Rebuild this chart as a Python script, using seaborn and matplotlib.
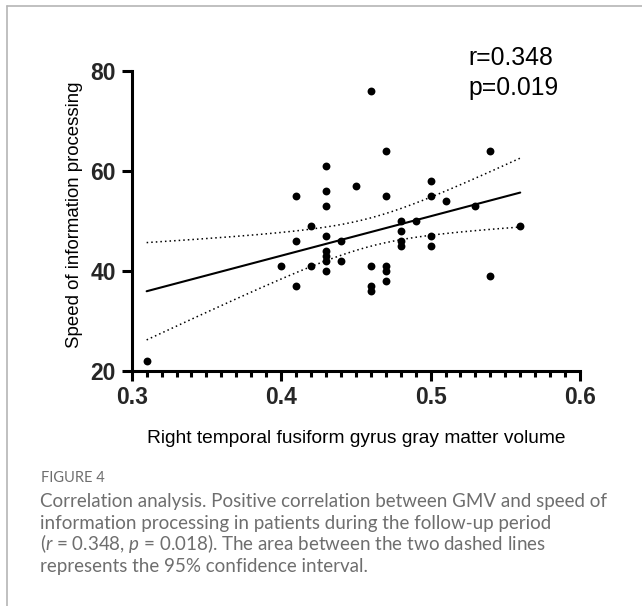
import numpy as np
import pandas as pd
import matplotlib
matplotlib.use("Agg")
import matplotlib.pyplot as plt
from matplotlib.lines import Line2D
from matplotlib.ticker import MultipleLocator
import seaborn as sns

# ---- data ----
gmv = [0.31,
       0.40,
       0.41, 0.41, 0.41,
       0.42, 0.42,
       0.43, 0.43, 0.43, 0.43, 0.43, 0.43, 0.43, 0.43,
       0.44, 0.44,
       0.45,
       0.46, 0.46, 0.46, 0.46,
       0.47, 0.47, 0.47, 0.47, 0.47,
       0.48, 0.48, 0.48, 0.48,
       0.49,
       0.50, 0.50, 0.50, 0.50,
       0.51,
       0.53,
       0.54, 0.54,
       0.56]
speed = [22,
         41,
         55, 46, 37,
         49, 41,
         61, 56, 53, 47, 44, 43, 42, 40,
         46, 42,
         57,
         76, 41, 37, 36,
         64, 55, 41, 40, 38,
         50, 48, 46, 45,
         50,
         58, 55, 47, 45,
         54,
         53,
         64, 39,
         49]
x_ticks = [0.3, 0.4, 0.5, 0.6]
y_ticks = [20, 40, 60, 80]
x_label = "Right temporal fusiform gyrus gray matter volume"
y_label = "Speed of information processing"
stat_text = "r=0.348\np=0.019"
caption_head = "FIGURE 4"
caption_lines = [
    "Correlation analysis. Positive correlation between GMV and speed of",
    "information processing in patients during the follow-up period",
    r"($\it{r}$ = 0.348, $\it{p}$ = 0.018). The area between the two dashed lines",
    "represents the 95% confidence interval.",
]

df = pd.DataFrame({"gmv": gmv, "speed": speed})

sns.set_theme(style="white")
plt.rcParams["font.family"] = ["Liberation Sans", "DejaVu Sans"]
plt.rcParams["mathtext.fontset"] = "custom"
plt.rcParams["mathtext.it"] = "Lato:italic"
plt.rcParams["mathtext.rm"] = "Lato"

W, H = 642, 606
fig = plt.figure(figsize=(W / 100, H / 100), dpi=100)
fig.patch.set_facecolor("white")

left, right = 131.7 / W, 580 / W
bottom, top = 1 - 370.5 / H, 1 - 70.5 / H
ax = fig.add_axes([left, bottom, right - left, top - bottom])
ax.set_facecolor("white")

# regression line (library)
sns.regplot(data=df, x="gmv", y="speed", scatter=False, ci=None,
            color="black", line_kws={"lw": 1.5}, truncate=True, ax=ax)

# 95% confidence bounds (analytic, as in Prism)
xv = np.asarray(gmv, float)
yv = np.asarray(speed, float)
n = len(xv)
b, a = np.polyfit(xv, yv, 1)
resid = yv - (a + b * xv)
s = np.sqrt(np.sum(resid ** 2) / (n - 2))
sxx = np.sum((xv - xv.mean()) ** 2)
t_crit = 2.0227
xg = np.linspace(xv.min(), xv.max(), 200)
yg = a + b * xg
half = t_crit * s * np.sqrt(1.0 / n + (xg - xv.mean()) ** 2 / sxx)
ci_df = pd.DataFrame({"x": np.concatenate([xg, xg]),
                      "y": np.concatenate([yg + half, yg - half]),
                      "bound": ["upper"] * len(xg) + ["lower"] * len(xg)})
for bnd in ["upper", "lower"]:
    sub = ci_df[ci_df["bound"] == bnd]
    ax.plot(sub["x"], sub["y"], color="black", lw=1.1, ls=(0, (1, 2)))

# points
sns.scatterplot(data=df, x="gmv", y="speed", color="black", s=32,
                edgecolor="black", linewidth=0, ax=ax, zorder=5, clip_on=False)

ax.set_xlim(0.3, 0.6)
ax.set_ylim(20, 80)
ax.set_xticks(x_ticks)
ax.set_xticklabels([f"{v:.1f}" for v in x_ticks])
ax.set_yticks(y_ticks)
ax.set_yticklabels([str(v) for v in y_ticks])
ax.xaxis.set_minor_locator(MultipleLocator(0.01))

for side in ["top", "right"]:
    ax.spines[side].set_visible(False)
for side in ["left", "bottom"]:
    ax.spines[side].set_linewidth(2.2)
    ax.spines[side].set_color("black")

ax.tick_params(axis="both", which="major", direction="out", length=7.5,
               width=2.2, color="black", labelsize=16.5, pad=4,
               bottom=True, left=True)
ax.tick_params(axis="x", which="minor", direction="out", length=4.5,
               width=2.2, color="black", bottom=True)
for lbl in ax.get_xticklabels() + ax.get_yticklabels():
    lbl.set_fontweight("bold")

ax.set_xlabel(x_label, fontsize=13.8, labelpad=15, color="black")
ax.set_ylabel(y_label, fontsize=13.4, labelpad=5, color="black")
ax.yaxis.label.set_y(0.52)

# r / p annotation
fig.text(468 / W, 1 - 95 / H, stat_text, fontsize=17.8, ha="left",
         va="baseline", linespacing=1.3, color="black")

# caption
cap_color = "#6e6e6e"
fig.text(41 / W, 1 - 482 / H, caption_head, fontsize=10.5, color=cap_color,
         family=["Lato", "DejaVu Sans"], va="baseline", ha="left")
for i, line in enumerate(caption_lines):
    fig.text(40 / W, 1 - (507 + 21.7 * i) / H, line, fontsize=13.5,
             color=cap_color, family=["Lato", "DejaVu Sans"],
             va="baseline", ha="left")

# partial frame of the figure panel
fig.add_artist(Line2D([7 / W, 7 / W], [0, 1 - 6 / H], transform=fig.transFigure,
                      color="#b5b5b5", lw=1.2))
fig.add_artist(Line2D([7 / W, 1], [1 - 6 / H, 1 - 6 / H], transform=fig.transFigure,
                      color="#b5b5b5", lw=1.2))

fig.savefig("out.png", dpi=100, facecolor="white")
